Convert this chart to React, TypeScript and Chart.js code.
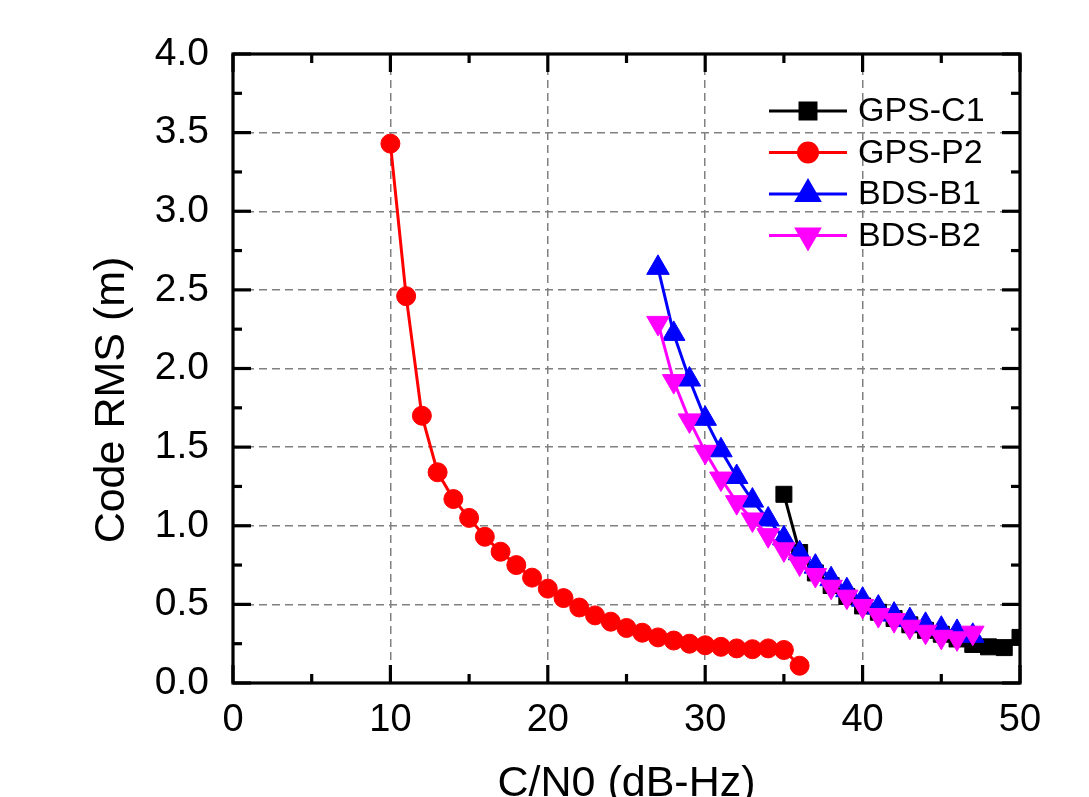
import React, { useEffect, useRef } from 'react';
import { Chart, registerables } from 'chart.js';
import { drawPoint } from 'chart.js/helpers';

Chart.register(...registerables);

const FONT = "'Liberation Sans', Arial, Helvetica, sans-serif";

// ---- data ----
const cn0C1 = [35, 36, 37, 38, 39, 40, 41, 42, 43, 44, 45, 46, 47, 48, 49, 50];
const rmsC1 = [1.2, 0.83, 0.7, 0.62, 0.55, 0.49, 0.45, 0.41, 0.37, 0.335, 0.31, 0.28, 0.245, 0.23, 0.225, 0.29];

const cn0P2 = [10, 11, 12, 13, 14, 15, 16, 17, 18, 19, 20, 21, 22, 23, 24, 25, 26, 27, 28, 29, 30, 31, 32, 33, 34, 35, 36];
const rmsP2 = [3.43, 2.46, 1.7, 1.34, 1.17, 1.05, 0.93, 0.835, 0.75, 0.67, 0.6, 0.54, 0.48, 0.43, 0.39, 0.35, 0.32, 0.29, 0.27, 0.25, 0.24, 0.23, 0.22, 0.215, 0.22, 0.21, 0.11];

const cn0B1 = [27, 28, 29, 30, 31, 32, 33, 34, 35, 36, 37, 38, 39, 40, 41, 42, 43, 44, 45, 46, 47];
const rmsB1 = [2.64, 2.22, 1.93, 1.68, 1.48, 1.31, 1.16, 1.04, 0.92, 0.825, 0.74, 0.66, 0.59, 0.53, 0.48, 0.435, 0.4, 0.37, 0.345, 0.325, 0.3];

const cn0B2 = [27, 28, 29, 30, 31, 32, 33, 34, 35, 36, 37, 38, 39, 40, 41, 42, 43, 44, 45, 46, 47];
const rmsB2 = [2.29, 1.92, 1.67, 1.47, 1.3, 1.15, 1.04, 0.94, 0.85, 0.76, 0.687, 0.612, 0.549, 0.49, 0.432, 0.4, 0.358, 0.326, 0.294, 0.284, 0.32];

const seriesNames = ['GPS-C1', 'GPS-P2', 'BDS-B1', 'BDS-B2'];
const xTitle = 'C/N0 (dB-Hz)';
const yTitle = 'Code RMS (m)';
const xRange = [0, 50];
const yRange = [0, 4];
const xMajorStep = 10;
const xMinorStep = 5;
const yMajorStep = 0.5;
const yMinorStep = 0.25;

const toPts = (xs: number[], ys: number[]) => xs.map((x, i) => ({ x, y: ys[i] }));

const framePlugin = {
  id: 'frameTicksLegend',
  afterDraw(chart: any) {
    const { ctx, chartArea: a, scales } = chart;
    const x = scales.x;
    const y = scales.y;
    ctx.save();
    ctx.strokeStyle = '#000';
    ctx.lineWidth = 3.2;
    ctx.lineCap = 'butt';
    const seg = (x1: number, y1: number, x2: number, y2: number) => {
      ctx.beginPath();
      ctx.moveTo(x1, y1);
      ctx.lineTo(x2, y2);
      ctx.stroke();
    };
    const nx = Math.round((xRange[1] - xRange[0]) / xMinorStep);
    for (let i = 0; i <= nx; i++) {
      const v = xRange[0] + i * xMinorStep;
      const px = x.getPixelForValue(v);
      const len = Math.abs(v % xMajorStep) < 1e-9 ? 18 : 9;
      seg(px, a.bottom, px, a.bottom - len);
      seg(px, a.top, px, a.top + len);
    }
    const ny = Math.round((yRange[1] - yRange[0]) / yMinorStep);
    for (let i = 0; i <= ny; i++) {
      const v = yRange[0] + i * yMinorStep;
      const py = y.getPixelForValue(v);
      const len = i % Math.round(yMajorStep / yMinorStep) === 0 ? 18 : 9;
      seg(a.left, py, a.left + len, py);
      seg(a.right, py, a.right - len, py);
    }
    ctx.strokeRect(a.left, a.top, a.right - a.left, a.bottom - a.top);

    // legend
    const lx0 = 769, lx1 = 847, textX = 858, rowY0 = 111, rowH = 41.5;
    chart.data.datasets.forEach((ds: any, i: number) => {
      const ry = rowY0 + i * rowH;
      ctx.strokeStyle = ds.borderColor;
      ctx.lineWidth = ds.borderWidth;
      seg(lx0, ry, lx1, ry);
      ctx.fillStyle = ds.pointBackgroundColor;
      ctx.strokeStyle = ds.pointBorderColor;
      drawPoint(ctx, {
        pointStyle: ds.pointStyle,
        radius: ds.pointRadius,
        rotation: ds.pointRotation || 0,
        borderWidth: 1,
      }, (lx0 + lx1) / 2, ry);
      ctx.fillStyle = '#000';
      ctx.font = `34px ${FONT}`;
      ctx.textAlign = 'left';
      ctx.textBaseline = 'middle';
      ctx.fillText(ds.label, textX, ry + 1);
    });

    // axis titles
    ctx.fillStyle = '#000';
    ctx.font = `43px ${FONT}`;
    ctx.textAlign = 'center';
    ctx.textBaseline = 'alphabetic';
    ctx.fillText(xTitle, (a.left + a.right) / 2, 796);
    ctx.translate(124, 400);
    ctx.rotate(-Math.PI / 2);
    ctx.fillText(yTitle, 0, 0);
    ctx.restore();
  },
};

export default function App() {
  const ref = useRef<HTMLCanvasElement | null>(null);
  useEffect(() => {
    if (!ref.current) return;
    const mk = (label: string, data: any, color: string, style: string, radius: number, order: number, rotation = 0) => ({
      label,
      data,
      borderColor: color,
      backgroundColor: color,
      pointBackgroundColor: color,
      pointBorderColor: color,
      pointBorderWidth: 1,
      borderWidth: 3,
      pointStyle: style,
      pointRadius: radius,
      pointRotation: rotation,
      tension: 0,
      order,
    });
    const gridColor = (range: number[]) => (c: any) => {
      const v = c.tick ? c.tick.value : 0;
      if (Math.abs(v - range[0]) < 1e-9 || Math.abs(v - range[1]) < 1e-9) return 'rgba(0,0,0,0)';
      return '#808080';
    };
    const chart = new Chart(ref.current, {
      type: 'line',
      data: {
        datasets: [
          mk(seriesNames[0], toPts(cn0C1, rmsC1), '#000000', 'rect', 11.3, 3),
          mk(seriesNames[1], toPts(cn0P2, rmsP2), '#ff0000', 'circle', 9.5, 2),
          mk(seriesNames[2], toPts(cn0B1, rmsB1), '#0000ff', 'triangle', 13, 1),
          mk(seriesNames[3], toPts(cn0B2, rmsB2), '#ff00ff', 'triangle', 13, 0, 180),
        ] as any,
      },
      options: {
        animation: false,
        responsive: false,
        maintainAspectRatio: false,
        layout: { padding: { top: 54, right: 69, left: 0, bottom: 0 } },
        plugins: { legend: { display: false }, tooltip: { enabled: false } },
        scales: {
          x: {
            type: 'linear',
            min: xRange[0],
            max: xRange[1],
            afterFit: (s: any) => { s.height = 114; },
            border: { display: false, dash: [8, 5] },
            grid: { color: gridColor(xRange), lineWidth: 1.5, drawTicks: false },
            ticks: {
              stepSize: xMajorStep,
              padding: 15,
              color: '#000',
              font: { family: FONT, size: 38 },
              maxRotation: 0,
              autoSkip: false,
            },
          },
          y: {
            type: 'linear',
            min: yRange[0],
            max: yRange[1],
            afterFit: (s: any) => { s.width = 233; },
            border: { display: false, dash: [8, 5] },
            grid: { color: gridColor(yRange), lineWidth: 1.5, drawTicks: false },
            ticks: {
              stepSize: yMajorStep,
              padding: 24,
              color: '#000',
              font: { family: FONT, size: 39 },
              callback: (v: any) => Number(v).toFixed(1),
              autoSkip: false,
            },
          },
        },
      },
      plugins: [framePlugin],
    } as any);
    return () => chart.destroy();
  }, []);
  return (
    <div style={{ position: 'fixed', left: 0, top: 0, width: 1089, height: 797, overflow: 'hidden', background: '#fff' }}>
      <canvas ref={ref} width={1089} height={797} style={{ display: 'block' }} />
    </div>
  );
}
